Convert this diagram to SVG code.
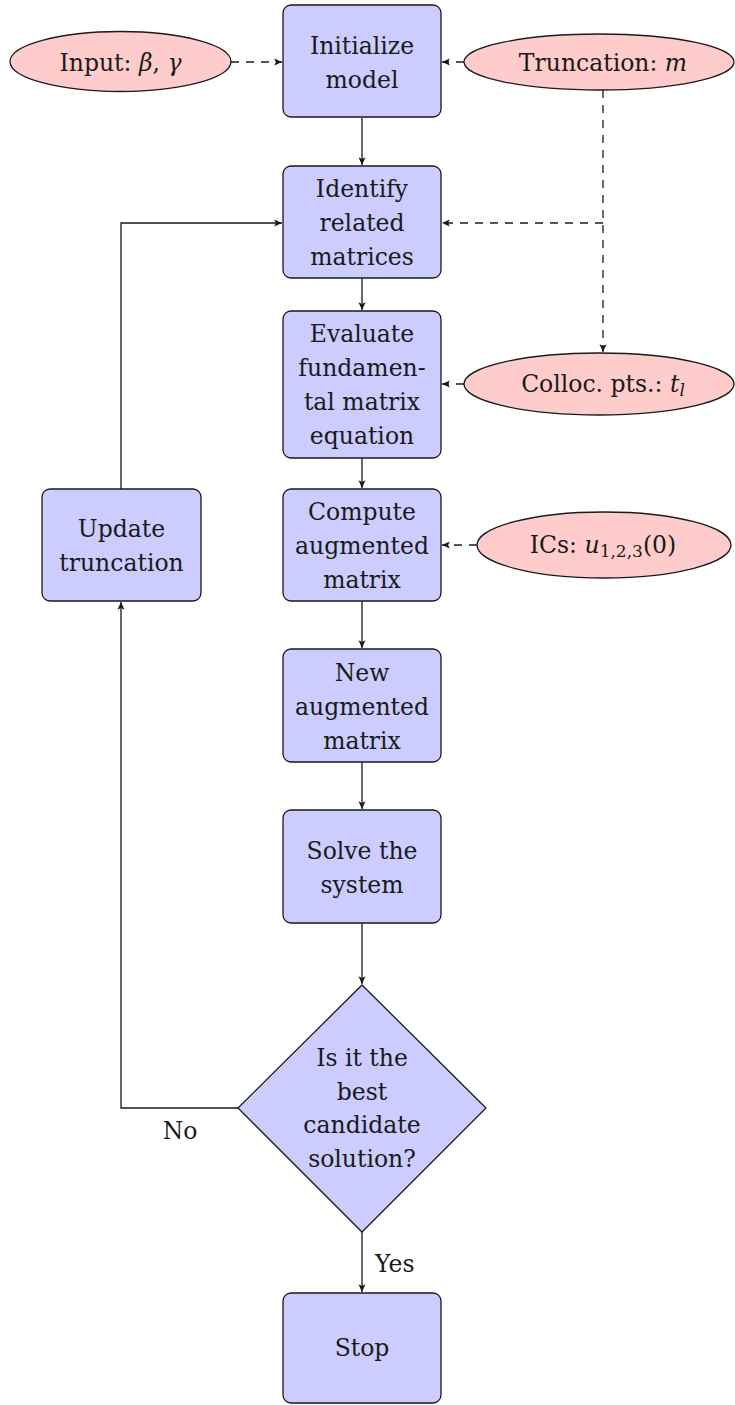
<svg xmlns="http://www.w3.org/2000/svg" width="735" height="1405" viewBox="0 0 735 1405">
<style>
.box{fill:#ccccff;stroke:#1a1a1a;stroke-width:1.3}
.ell{fill:#ffcccc;stroke:#1a1a1a;stroke-width:1.3}
text{font-size:23.5px;fill:#1a1a1a;text-anchor:middle}
text.tl{text-anchor:start}
.m{font-style:italic}
.sub{font-size:17px}
.c{fill:none;stroke:#1a1a1a;stroke-width:1.3}
.d{stroke-dasharray:8 7}
</style>
<defs>
<marker id="ah" markerUnits="userSpaceOnUse" markerWidth="10" markerHeight="10" viewBox="-8 -4 9 8" refX="0" refY="0" orient="auto">
<path d="M-7,-3.2 L0,0 L-7,3.2 L-5.5,0 z" fill="#1a1a1a"/>
</marker>
</defs>
<g font-family="DejaVu Serif, serif">
<g id="connectors">
<path class="c" d="M362,118 V165" marker-end="url(#ah)"/>
<path class="c" d="M362,278 V310" marker-end="url(#ah)"/>
<path class="c" d="M362,458 V488" marker-end="url(#ah)"/>
<path class="c" d="M362,601 V648" marker-end="url(#ah)"/>
<path class="c" d="M362,762 V809" marker-end="url(#ah)"/>
<path class="c" d="M362,923 V984" marker-end="url(#ah)"/>
<path class="c" d="M362,1232 V1292" marker-end="url(#ah)"/>
<path class="c" d="M121,489 V223 H282" marker-end="url(#ah)"/>
<path class="c" d="M238,1108 H121 V602" marker-end="url(#ah)"/>
<path class="c d" d="M231,62 H282" marker-end="url(#ah)"/>
<path class="c d" d="M464,62 H442" marker-end="url(#ah)"/>
<path class="c d" d="M603,90 V352" marker-end="url(#ah)"/>
<path class="c d" d="M603,223 H442" marker-end="url(#ah)"/>
<path class="c d" d="M464,384 H442" marker-end="url(#ah)"/>
<path class="c d" d="M477,545 H442" marker-end="url(#ah)"/>
<text x="180" y="1139">No</text>
<text class="tl" x="375" y="1272">Yes</text>
</g>
<g id="input">
<ellipse class="ell" cx="120.5" cy="61.5" rx="110.5" ry="30"/>
<text x="120.5" y="71">Input: <tspan class="m">β</tspan>, <tspan class="m">γ</tspan></text>
</g>
<g id="truncation">
<ellipse class="ell" cx="599" cy="62" rx="135" ry="28"/>
<text x="603" y="71">Truncation: <tspan class="m">m</tspan></text>
</g>
<g id="colloc">
<ellipse class="ell" cx="599" cy="384" rx="135" ry="31"/>
<text x="603" y="392">Colloc. pts.: <tspan class="m">t</tspan><tspan class="m sub" dy="4">l</tspan></text>
</g>
<g id="ics">
<ellipse class="ell" cx="604" cy="545" rx="127" ry="33"/>
<text x="603" y="553">ICs: <tspan class="m">u</tspan><tspan class="sub" dy="4">1,2,3</tspan><tspan dy="-4">(0)</tspan></text>
</g>
<g id="initialize">
<rect class="box" x="283" y="5" width="158" height="112" rx="8"/>
<text x="362" y="54">Initialize</text>
<text x="362" y="88">model</text>
</g>
<g id="identify">
<rect class="box" x="283" y="166" width="158" height="112" rx="8"/>
<text x="362" y="197">Identify</text>
<text x="362" y="231">related</text>
<text x="362" y="265">matrices</text>
</g>
<g id="evaluate">
<rect class="box" x="283" y="311" width="158" height="147" rx="8"/>
<text x="362" y="342">Evaluate</text>
<text x="362" y="376">fundamen-</text>
<text x="362" y="410">tal matrix</text>
<text x="362" y="444">equation</text>
</g>
<g id="compute">
<rect class="box" x="283" y="489" width="158" height="112" rx="8"/>
<text x="362" y="520">Compute</text>
<text x="362" y="554">augmented</text>
<text x="362" y="588">matrix</text>
</g>
<g id="update">
<rect class="box" x="42" y="489" width="159" height="112" rx="8"/>
<text x="121.5" y="537">Update</text>
<text x="121.5" y="571">truncation</text>
</g>
<g id="newaug">
<rect class="box" x="283" y="649" width="158" height="113" rx="8"/>
<text x="362" y="681">New</text>
<text x="362" y="715">augmented</text>
<text x="362" y="749">matrix</text>
</g>
<g id="solve">
<rect class="box" x="283" y="810" width="158" height="113" rx="8"/>
<text x="362" y="859">Solve the</text>
<text x="362" y="893">system</text>
</g>
<g id="decision">
<path class="box" d="M362,985 L486,1108 L362,1232 L238,1108 z"/>
<text x="362" y="1066">Is it the</text>
<text x="362" y="1100">best</text>
<text x="362" y="1133">candidate</text>
<text x="362" y="1167">solution?</text>
</g>
<g id="stop">
<rect class="box" x="283" y="1293" width="158" height="110" rx="8"/>
<text x="362" y="1356">Stop</text>
</g>
</g>
</svg>
